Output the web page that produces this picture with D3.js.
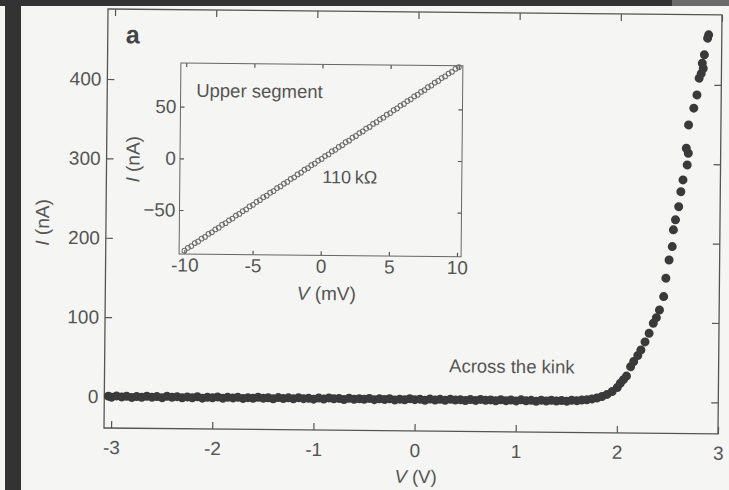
<!DOCTYPE html>
<html>
<head>
<meta charset="utf-8">
<script src="https://cdn.jsdelivr.net/npm/d3@7.9.0/dist/d3.min.js"></script>
<style>
  html, body { margin: 0; padding: 0; background: #f5f5f3; }
  svg { display: block; font-family: "Liberation Sans", Arial, Helvetica, sans-serif; }
</style>
</head>
<body>
<div id="chart"></div>
<script>
// ---------------------------------------------------------
// Data
// ---------------------------------------------------------
const mainXTicks = [-3, -2, -1, 0, 1, 2, 3];
const mainYTicks = [0, 100, 200, 300, 400];
const insetXTicks = [-10, -5, 0, 5, 10];
const insetYTicks = [-50, 0, 50];

// Across the kink: [V (V), I (nA)]
const acrossKink = [
  [-3.03,0.5],[-3.00,-0.8],[-2.95,0.9],[-2.90,-0.4],[-2.85,0.6],[-2.80,-0.9],[-2.75,0.3],[-2.70,-0.6],
  [-2.65,0.8],[-2.60,-0.3],[-2.55,0.5],[-2.50,-0.8],[-2.45,1.0],[-2.40,-0.2],[-2.35,0.7],[-2.30,-0.7],
  [-2.25,0.4],[-2.20,-0.5],[-2.15,0.9],[-2.10,-0.9],[-2.05,0.2],[-2.00,-0.4],[-1.95,0.8],[-1.90,-0.7],
  [-1.85,0.5],[-1.80,-0.3],[-1.75,0.6],[-1.70,-0.8],[-1.65,0.3],[-1.60,-0.5],[-1.55,0.9],[-1.50,-0.2],
  [-1.45,0.4],[-1.40,-0.9],[-1.35,0.7],[-1.30,-0.4],[-1.25,0.5],[-1.20,-0.7],[-1.15,0.8],[-1.10,-0.3],
  [-1.05,0.2],[-1.00,-0.8],[-0.95,0.6],[-0.90,-0.5],[-0.85,0.9],[-0.80,-0.2],[-0.75,0.4],[-0.70,-0.9],
  [-0.65,0.7],[-0.60,-0.6],[-0.55,0.3],[-0.50,-0.4],[-0.45,0.8],[-0.40,-0.7],[-0.35,0.5],[-0.30,-0.3],
  [-0.25,0.6],[-0.20,-0.8],[-0.15,0.2],[-0.10,-0.5],[-0.05,0.9],[0.00,-0.2],[0.05,0.4],[0.10,-0.9],
  [0.15,0.7],[0.20,-0.4],[0.25,0.5],[0.30,-0.6],[0.35,0.8],[0.40,-0.3],[0.45,0.3],[0.50,-0.8],
  [0.55,0.6],[0.60,-0.5],[0.65,0.9],[0.70,-0.2],[0.75,0.4],[0.80,-0.7],[0.85,0.7],[0.90,-0.4],
  [0.95,0.5],[1.00,-0.6],[1.05,0.8],[1.10,-0.3],[1.15,0.3],[1.20,-0.8],[1.25,0.6],[1.30,-0.4],
  [1.35,0.7],[1.40,-0.2],[1.45,0.5],[1.50,-0.3],[1.55,0.9],[1.60,0.4],[1.65,1.2],[1.70,1.6],
  [1.75,2.8],[1.80,4.1],[1.85,6.0],[1.90,8.7],[1.95,12.4],[2.00,17.6],[2.03,22.9],[2.06,27.5],
  [2.09,32.0],[2.13,43.9],[2.16,50.5],[2.20,58.0],[2.23,65.1],[2.27,75.3],[2.31,86.2],[2.35,98.9],
  [2.38,106.0],[2.41,115.7],[2.45,132.6],[2.47,155.8],[2.50,178.8],[2.53,195.7],[2.54,216.8],[2.56,229.5],
  [2.59,246.1],[2.61,265.0],[2.63,279.9],[2.67,298.8],[2.68,313.5],[2.66,319.8],[2.68,349.2],[2.73,370.4],
  [2.76,387.1],[2.78,408.2],[2.80,414.0],[2.82,420.5],[2.81,427.1],[2.83,437.7],[2.86,458.7],[2.87,462.9]
];

// Upper segment (inset): [V (mV), I (nA)]
const upperSegment = [
  [-10,-89.3],[-9.75,-86.5],[-9.5,-84.8],[-9.25,-81.9],[-9,-80.3],[-8.75,-77.5],[-8.5,-75.8],[-8.25,-72.9],
  [-8,-71.3],[-7.75,-68.5],[-7.5,-66.8],[-7.25,-63.9],[-7,-62.3],[-6.75,-59.5],[-6.5,-57.8],[-6.25,-54.9],
  [-6,-53.3],[-5.75,-50.5],[-5.5,-48.8],[-5.25,-45.9],[-5,-44.3],[-4.75,-41.5],[-4.5,-39.8],[-4.25,-36.9],
  [-4,-35.3],[-3.75,-32.5],[-3.5,-30.8],[-3.25,-27.9],[-3,-26.3],[-2.75,-23.5],[-2.5,-21.8],[-2.25,-18.9],
  [-2,-17.3],[-1.75,-14.5],[-1.5,-12.8],[-1.25,-9.9],[-1,-8.3],[-0.75,-5.5],[-0.5,-3.8],[-0.25,-0.9],
  [0,0.7],[0.25,3.5],[0.5,5.2],[0.75,8.1],[1,9.7],[1.25,12.5],[1.5,14.2],[1.75,17.1],
  [2,18.7],[2.25,21.5],[2.5,23.2],[2.75,26.1],[3,27.7],[3.25,30.5],[3.5,32.2],[3.75,35.1],
  [4,36.7],[4.25,39.5],[4.5,41.2],[4.75,44.1],[5,45.7],[5.25,48.5],[5.5,50.2],[5.75,53.1],
  [6,54.7],[6.25,57.5],[6.5,59.2],[6.75,62.1],[7,63.7],[7.25,66.5],[7.5,68.2],[7.75,71.1],
  [8,72.7],[8.25,75.5],[8.5,77.2],[8.75,80.1],[9,81.7],[9.25,84.5],[9.5,86.2],[9.75,89.1],[10,90.7]
];

// ---------------------------------------------------------
// Layout
// ---------------------------------------------------------
const width = 729;
const height = 490;
const ink = "#555";
const font = '"Liberation Sans", Arial, Helvetica, sans-serif';

const svg = d3.select("#chart")
  .append("svg")
  .attr("width", width)
  .attr("height", height);

svg.append("rect").attr("width", width).attr("height", height).attr("fill", "#f5f5f3");

// dark scanner edges
svg.append("rect").attr("x", 5).attr("y", 0).attr("width", 16).attr("height", height).attr("fill", "#333");
svg.append("rect").attr("x", 0).attr("y", 0).attr("width", width).attr("height", 6).attr("fill", "#333");
svg.append("rect").attr("x", 672).attr("y", 0).attr("width", width - 672).attr("height", 6).attr("fill", "#6a6a6a");

// the scanned page is tilted a little
const page = svg.append("g").attr("transform", "rotate(0.55 104 428)");

function styleAxis(g) {
  g.attr("font-family", font).attr("font-size", 19);
  g.select(".domain").remove();
  g.selectAll(".tick line").attr("stroke", ink).attr("stroke-width", 1.2);
  g.selectAll(".tick text").attr("fill", ink);
}

const fmt = d => String(d);

// --------------------------
// MAIN PLOT
// --------------------------
const frame = { left: 104, right: 718, top: 9, bottom: 428 };

const xScale = d3.scaleLinear().domain([-3.07, 3.0]).range([frame.left, frame.right]);
const yScale = d3.scaleLinear().domain([-39.7, 488.2]).range([frame.bottom, frame.top]);

page.append("g")
  .attr("transform", `translate(0,${frame.bottom})`)
  .call(d3.axisBottom(xScale).tickValues(mainXTicks).tickFormat(fmt).tickSizeInner(-7).tickSizeOuter(0).tickPadding(12.5))
  .call(styleAxis);

page.append("g")
  .attr("transform", `translate(0,${frame.top})`)
  .call(d3.axisTop(xScale).tickValues(mainXTicks).tickFormat("").tickSizeInner(-7).tickSizeOuter(0))
  .call(styleAxis);

page.append("g")
  .attr("transform", `translate(${frame.left},0)`)
  .call(d3.axisLeft(yScale).tickValues(mainYTicks).tickFormat(fmt).tickSizeInner(-7).tickSizeOuter(0).tickPadding(6))
  .call(styleAxis);

page.append("g")
  .attr("transform", `translate(${frame.right},0)`)
  .call(d3.axisRight(yScale).tickValues(mainYTicks).tickFormat("").tickSizeInner(-7).tickSizeOuter(0))
  .call(styleAxis);

page.append("rect")
  .attr("x", frame.left).attr("y", frame.top)
  .attr("width", frame.right - frame.left).attr("height", frame.bottom - frame.top)
  .attr("fill", "none").attr("stroke", ink).attr("stroke-width", 1.3);

page.append("g")
  .selectAll("circle")
  .data(acrossKink)
  .join("circle")
  .attr("cx", d => xScale(d[0]))
  .attr("cy", d => yScale(d[1]))
  .attr("r", 4.5)
  .attr("fill", "#3a3a3a");

// axis titles + labels
const mainX = page.append("text")
  .attr("x", 416).attr("y", 480)
  .attr("text-anchor", "middle")
  .attr("font-family", font).attr("font-size", 18.5).attr("fill", ink);
mainX.append("tspan").attr("font-style", "italic").text("V");
mainX.append("tspan").text(" (V)");

const mainY = page.append("text")
  .attr("transform", "translate(47,223) rotate(-90)")
  .attr("text-anchor", "middle")
  .attr("font-family", font).attr("font-size", 19).attr("fill", ink);
mainY.append("tspan").attr("font-style", "italic").text("I");
mainY.append("tspan").text(" (nA)");

page.append("text")
  .attr("x", 122).attr("y", 43)
  .attr("font-family", font).attr("font-size", 25).attr("font-weight", "bold").attr("fill", "#444")
  .text("a");

page.append("text")
  .attr("x", 448.5).attr("y", 369)
  .attr("font-family", font).attr("font-size", 18.5).attr("fill", ink)
  .text("Across the kink");

// --------------------------
// INSET
// --------------------------
const inset = { left: 177.4, right: 459.4, top: 62.3, bottom: 253.3 };

const ixScale = d3.scaleLinear().domain([-10.39, 10.30]).range([inset.left, inset.right]);
const iyScale = d3.scaleLinear().domain([-92.6, 92.2]).range([inset.bottom, inset.top]);

const insetG = page.append("g");

insetG.append("g")
  .attr("transform", `translate(0,${inset.bottom})`)
  .call(d3.axisBottom(ixScale).tickValues(insetXTicks).tickFormat(fmt).tickSizeInner(-4).tickSizeOuter(0).tickPadding(4))
  .call(styleAxis);

insetG.append("g")
  .attr("transform", `translate(0,${inset.top})`)
  .call(d3.axisTop(ixScale).tickValues(insetXTicks).tickFormat("").tickSizeInner(-4).tickSizeOuter(0))
  .call(styleAxis);

insetG.append("g")
  .attr("transform", `translate(${inset.left},0)`)
  .call(d3.axisLeft(iyScale).tickValues(insetYTicks).tickFormat(d => d < 0 ? "\u2212" + Math.abs(d) : String(d)).tickSizeInner(-4).tickSizeOuter(0).tickPadding(4))
  .call(styleAxis);

insetG.append("g")
  .attr("transform", `translate(${inset.right},0)`)
  .call(d3.axisRight(iyScale).tickValues(insetYTicks).tickFormat("").tickSizeInner(-4).tickSizeOuter(0))
  .call(styleAxis);

insetG.append("rect")
  .attr("x", inset.left).attr("y", inset.top)
  .attr("width", inset.right - inset.left).attr("height", inset.bottom - inset.top)
  .attr("fill", "none").attr("stroke", "#666").attr("stroke-width", 1);

insetG.append("g")
  .selectAll("circle")
  .data(upperSegment)
  .join("circle")
  .attr("cx", d => ixScale(d[0]))
  .attr("cy", d => iyScale(d[1]))
  .attr("r", 2.4)
  .attr("fill", "none")
  .attr("stroke", "#6a6a6a")
  .attr("stroke-width", 1);

const insetX = insetG.append("text")
  .attr("x", 325).attr("y", 298)
  .attr("text-anchor", "middle")
  .attr("font-family", font).attr("font-size", 19).attr("fill", ink);
insetX.append("tspan").attr("font-style", "italic").text("V");
insetX.append("tspan").text(" (mV)");

const insetY = insetG.append("text")
  .attr("transform", "translate(137,159) rotate(-90)")
  .attr("text-anchor", "middle")
  .attr("font-family", font).attr("font-size", 19).attr("fill", ink);
insetY.append("tspan").attr("font-style", "italic").text("I");
insetY.append("tspan").text(" (nA)");

insetG.append("text")
  .attr("x", 193).attr("y", 96)
  .attr("font-family", font).attr("font-size", 18.5).attr("fill", ink)
  .text("Upper segment");

insetG.append("text")
  .attr("x", 320).attr("y", 181)
  .attr("font-family", font).attr("font-size", 18).attr("fill", ink)
  .text("110\u2009k\u03A9");
</script>
</body>
</html>
